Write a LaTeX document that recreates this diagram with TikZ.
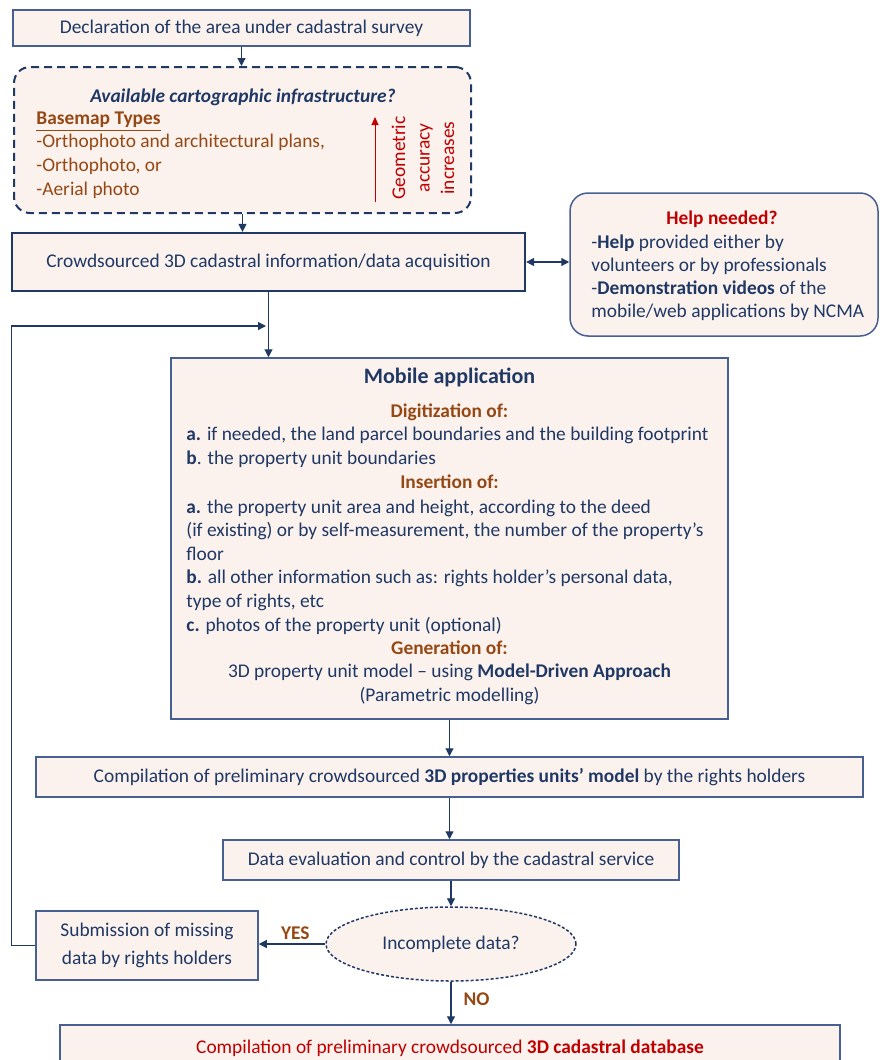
\documentclass[tikz,border=0pt]{standalone}
\usepackage{fontspec}
\setmainfont{Carlito}
\usetikzlibrary{arrows.meta,shapes.geometric}
\definecolor{boxfill}{RGB}{251,242,238}
\definecolor{boxline}{RGB}{72,96,145}
\definecolor{navy}{RGB}{31,56,100}
\definecolor{brownhead}{RGB}{150,72,20}
\definecolor{darkred}{RGB}{192,0,0}
\newcommand{\bodyfont}{\fontsize{9.7}{11.8}\selectfont}

\begin{document}
\begin{tikzpicture}[x=0.5pt, y=-0.5pt,
   box/.style={draw=boxline, fill=boxfill, line width=0.75pt, inner sep=0pt, text=navy, font=\bodyfont},
   txt/.style={inner sep=0pt, text=navy, font=\bodyfont},
   head/.style={inner sep=0pt, text=brownhead, font=\bodyfont\bfseries},
   flow/.style={draw=navy, line width=0.6pt, -{Triangle[length=4pt,width=4pt]}},
   lbl/.style={inner sep=0pt, text=brownhead, font=\bodyfont\bfseries}]
   \useasboundingbox (0,0) rectangle (882,1060);
   \node[box, minimum width=228.5pt, minimum height=18pt] (decl) at (241.5,28) {Declaration of the area under cadastral survey};
   \node[box, draw=navy, dash pattern=on 4pt off 2.5pt, line width=1pt, rounded corners=8pt, minimum width=228.5pt, minimum height=73pt] (infra) at (242.5,140) {};
   \node[txt, anchor=base, font=\bodyfont\bfseries\itshape] (infraq) at (243,102) {Available cartographic infrastructure?};
   \node[txt, anchor=base west, align=left, text=brownhead] (basemap) at (36,195) {\textbf{\underline{Basemap Types}}\\-Orthophoto and architectural plans,\\-Orthophoto, or\\-Aerial photo};
   \coordinate (accbot) at (375,202);
   \coordinate (acctop) at (375,117);
   \draw[darkred, line width=0.5pt, -{Triangle[length=4pt,width=3.5pt]}] (accbot) -- (acctop);
   \node[txt, text=darkred, rotate=90, align=center, font=\fontsize{9.7}{12.2}\selectfont] (accuracy) at (423,158) {Geometric\\accuracy\\increases};
   \node[box, draw=navy, line width=1.1pt, minimum width=256.5pt, minimum height=29pt] (crowd) at (268.5,262) {Crowdsourced 3D cadastral information/data acquisition};
   \node[box, rounded corners=9pt, minimum width=154pt, minimum height=71.5pt] (help) at (724,264.5) {};
   \node[txt, anchor=base, text=darkred, font=\bodyfont\bfseries] (helpq) at (722,224) {Help needed?};
   \node[txt, anchor=base west, align=left, font=\fontsize{9.7}{11.5}\selectfont] (helplist) at (591,317) {-\textbf{Help} provided either by\\volunteers or by professionals\\-\textbf{Demonstration videos} of the\\mobile/web applications by NCMA};
   \node[box, minimum width=278.5pt, minimum height=180.5pt] (mobile) at (449.5,538.5) {};
   \node[txt, anchor=base, font=\fontsize{11}{13}\selectfont\bfseries] (mobtitle) at (449.5,383) {Mobile application};
   \node[head, anchor=base] (digit) at (449.5,417) {Digitization of:};
   \node[txt, anchor=base west, align=left] (digitlist) at (186,464) {\textbf{a.} if needed, the land parcel boundaries and the building footprint\\\textbf{b}. the property unit boundaries};
   \node[head, anchor=base] (insert) at (449.5,488) {Insertion of:};
   \node[txt, anchor=base west, align=left] (insertlist) at (186,631) {\textbf{a.} the property unit area and height, according to the deed\\(if existing) or by self-measurement, the number of the property’s\\floor\\\textbf{b.} all other information such as: rights holder’s personal data,\\type of rights, etc\\\textbf{c.} photos of the property unit (optional)};
   \node[head, anchor=base] (generate) at (449.5,654) {Generation of:};
   \node[txt, anchor=base, align=center] (genmodel) at (449.5,701) {3D property unit model -- using \textbf{Model-Driven Approach}\\(Parametric modelling)};
   \node[box, minimum width=413.5pt, minimum height=20pt] (comp) at (449.5,777) {Compilation of preliminary crowdsourced \textbf{3D properties units’ model} by the rights holders};
   \node[box, minimum width=228pt, minimum height=20pt] (eval) at (451,860) {Data evaluation and control by the cadastral service};
   \node[box, ellipse, draw=navy, dash pattern=on 1.5pt off 1pt, minimum width=125pt, minimum height=37pt] (incomplete) at (451,944) {Incomplete data?};
   \node[box, align=center, font=\fontsize{9.7}{14}\selectfont, minimum width=111pt, minimum height=34.5pt] (submit) at (147,945.5) {Submission of missing\\data by rights holders};
   \node[box, text=darkred, minimum width=390pt, minimum height=23.5pt] (final) at (450,1048.5) {Compilation of preliminary crowdsourced \textbf{3D cadastral database}};
   \draw[flow] (decl.south) -- (decl.south |- infra.north);
   \draw[flow] (infra.south) -- (infra.south |- crowd.north);
   \draw[draw=navy, line width=0.6pt, {Triangle[length=4pt,width=4pt]}-{Triangle[length=4pt,width=4pt]}] (crowd.east) -- (crowd.east -| help.west);
   \draw[flow] (crowd.south) -- (crowd.south |- mobile.north);
   \coordinate (loopin) at (266,326);
   \draw[flow] (submit.west) -- ++(-24,0) |- (loopin);
   \draw[flow] (mobile.south) -- (mobile.south |- comp.north);
   \draw[flow] (comp.south) -- (comp.south |- eval.north);
   \draw[flow] (eval.south) -- (incomplete.north);
   \draw[flow] (incomplete.west) -- node[lbl, above=2pt, pos=0.45] (yes) {YES} (incomplete.west -| submit.east);
   \draw[flow] (incomplete.south) -- node[lbl, right=6pt, pos=0.4] (no) {NO} (incomplete.south |- final.north);
\end{tikzpicture}
\end{document}
